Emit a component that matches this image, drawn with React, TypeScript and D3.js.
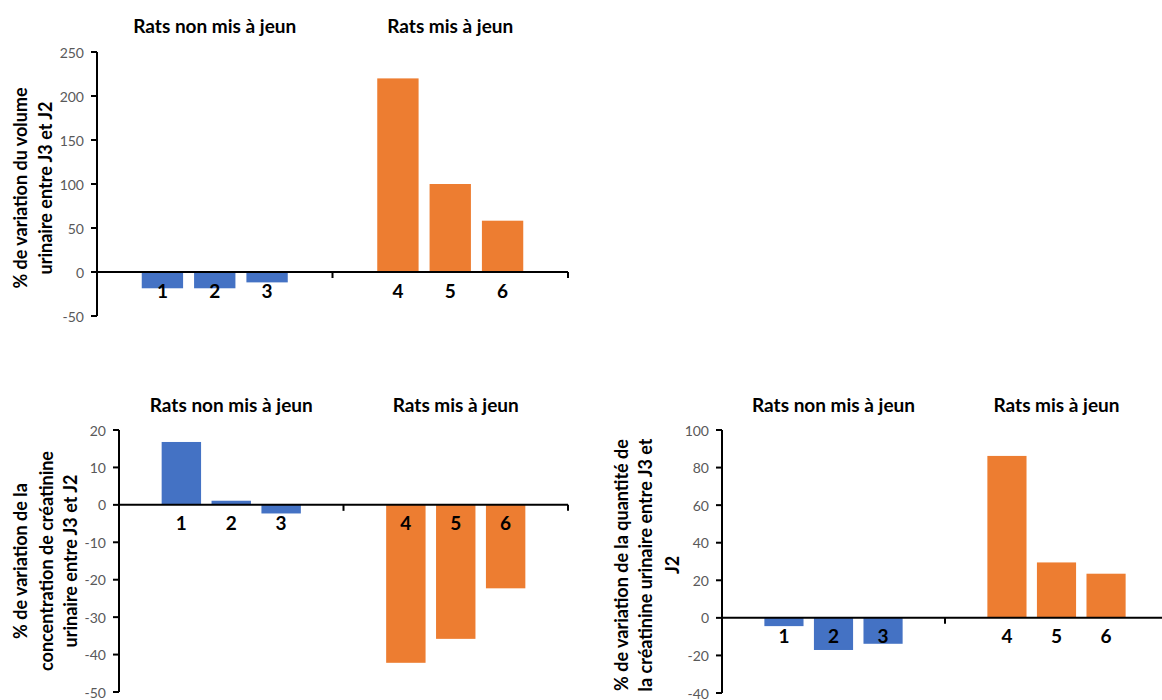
import React from "react";
import * as d3 from "d3";

const groups = ["Rats non mis à jeun", "Rats mis à jeun"];
const ratsNonJeun = ["1", "2", "3"];
const ratsJeun = ["4", "5", "6"];

const volumeValues = [-18.5, -18.5, -11.8, 220, 100, 58.3];
const concentrationValues = [16.8, 1.1, -2.3, -42.2, -35.8, -22.3];
const quantityValues = [-4.4, -17.1, -13.8, 86.2, 29.5, 23.5];

const volumeTicks = [-50, 0, 50, 100, 150, 200, 250];
const concentrationTicks = [-50, -40, -30, -20, -10, 0, 10, 20];
const quantityTicks = [-40, -20, 0, 20, 40, 60, 80, 100];

const volumeTitle = ["% de variation du volume", "urinaire entre J3 et J2"];
const concentrationTitle = ["% de variation de la", "concentration de créatinine", "urinaire entre J3 et J2"];
const quantityTitle = ["% de variation de la quantité de", "la créatinine urinaire entre J3 et", "J2"];

const BLUE = "#4472C4";
const ORANGE = "#ED7D31";
const FONT = "Lato, 'Open Sans', sans-serif";

type PanelProps = {
  values: number[];
  ticks: number[];
  titleLines: string[];
  titleXs: number[];
  titleCenterY: number;
  x0: number;
  x1: number;
  y0: number;
  y1: number;
  groupTitleY: number;
};

function Panel(p: PanelProps) {
  const y = d3.scaleLinear().domain([p.ticks[0], p.ticks[p.ticks.length - 1]]).range([p.y1, p.y0]);
  const gx = d3.scaleBand<string>().domain(groups).range([p.x0, p.x1]).padding(0);
  const gw = gx.bandwidth();
  const step = gw / 4.5;
  const cats = [ratsNonJeun, ratsJeun];
  const inner = groups.map((g, gi) => {
    const c = (gx(g) as number) + gw / 2;
    return d3
      .scaleBand<string>()
      .domain(cats[gi])
      .range([c - 1.5 * step, c + 1.5 * step])
      .paddingInner(0.21)
      .paddingOuter(0.105);
  });
  const zero = y(0);
  const bars = groups.flatMap((g, gi) =>
    cats[gi].map((c, ci) => ({ cat: c, v: p.values[gi * 3 + ci], scale: inner[gi], color: gi === 0 ? BLUE : ORANGE }))
  );
  return (
    <g>
      {groups.map((g) => (
        <text
          key={g}
          x={(gx(g) as number) + gw / 2}
          y={p.groupTitleY}
          textAnchor="middle"
          dominantBaseline="central"
          fontFamily={FONT}
          fontWeight="bold"
          fontSize={19}
          fill="#000"
        >
          {g}
        </text>
      ))}
      {bars.map((b) => (
        <rect
          key={b.cat}
          x={b.scale(b.cat)}
          width={b.scale.bandwidth()}
          y={Math.min(y(b.v), zero)}
          height={Math.abs(y(b.v) - zero)}
          fill={b.color}
        />
      ))}
      <line x1={p.x0} x2={p.x0} y1={p.y0} y2={p.y1} stroke="#000" strokeWidth={2} />
      {p.ticks.map((t) => (
        <g key={t}>
          <line x1={p.x0 - 6} x2={p.x0} y1={y(t)} y2={y(t)} stroke="#000" strokeWidth={2} />
          <text
            x={p.x0 - 13}
            y={y(t)}
            textAnchor="end"
            dominantBaseline="central"
            fontFamily={FONT}
            fontSize={14}
            fill="#595959"
          >
            {t}
          </text>
        </g>
      ))}
      <line x1={p.x0} x2={p.x1} y1={zero} y2={zero} stroke="#000" strokeWidth={2} />
      {groups.map((g) => (
        <line
          key={g}
          x1={(gx(g) as number) + gw}
          x2={(gx(g) as number) + gw}
          y1={zero}
          y2={zero + 6}
          stroke="#000"
          strokeWidth={2}
        />
      ))}
      {bars.map((b) => (
        <text
          key={"l" + b.cat}
          x={(b.scale(b.cat) as number) + b.scale.bandwidth() / 2}
          y={zero + 18}
          textAnchor="middle"
          dominantBaseline="central"
          fontFamily={FONT}
          fontWeight="bold"
          fontSize={19}
          fill="#000"
        >
          {b.cat}
        </text>
      ))}
      {p.titleLines.map((l, i) => (
        <text
          key={l}
          transform={`translate(${p.titleXs[i]},${p.titleCenterY}) rotate(-90)`}
          textAnchor="middle"
          dominantBaseline="central"
          fontFamily={FONT}
          fontWeight="bold"
          fontSize={18}
          fill="#000"
        >
          {l}
        </text>
      ))}
    </g>
  );
}

export default function App() {
  return (
    <div style={{ position: "absolute", left: 0, top: 0, width: 1162, height: 700, background: "#fff" }}>
      <svg width={1162} height={700} style={{ display: "block" }}>
        <rect width={1162} height={700} fill="#fff" />
        <Panel
          values={volumeValues}
          ticks={volumeTicks}
          titleLines={volumeTitle}
          titleXs={[20, 45]}
          titleCenterY={188}
          x0={97}
          x1={568}
          y0={52}
          y1={316}
          groupTitleY={25}
        />
        <Panel
          values={concentrationValues}
          ticks={concentrationTicks}
          titleLines={concentrationTitle}
          titleXs={[20, 46, 70]}
          titleCenterY={561}
          x0={119}
          x1={568}
          y0={430}
          y1={692}
          groupTitleY={404}
        />
        <Panel
          values={quantityValues}
          ticks={quantityTicks}
          titleLines={quantityTitle}
          titleXs={[621, 645, 672]}
          titleCenterY={565}
          x0={722}
          x1={1168}
          y0={430}
          y1={693}
          groupTitleY={404}
        />
      </svg>
    </div>
  );
}
